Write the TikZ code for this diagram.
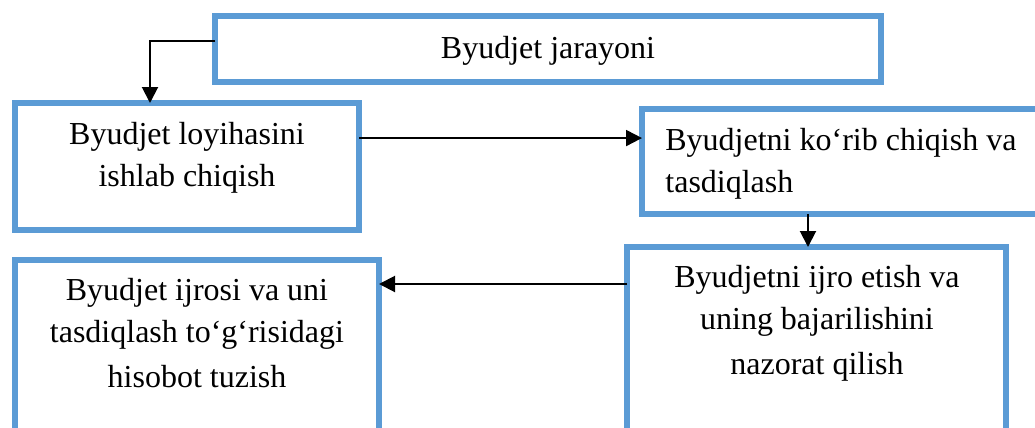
\documentclass[tikz,border=0pt]{standalone}
\usepackage{fontspec}
\setmainfont{Liberation Serif}
\usetikzlibrary{arrows.meta}
\definecolor{boxblue}{HTML}{5B9BD5}
\begin{document}
\begin{tikzpicture}[x=0.5pt,y=-0.5pt,
  stagebox/.style={draw=boxblue,line width=3pt,rectangle,outer sep=0pt,inner sep=0pt},
  stagetext/.style={font=\fontsize{16}{21}\selectfont,inner sep=0pt,anchor=base,align=center},
  flow/.style={line width=1pt,-{Triangle[length=8pt,width=8pt]}}]
\useasboundingbox (0,0) rectangle (1035,428);
\clip (0,0) rectangle (1035,428);

% stage frames
\node[stagebox,minimum width=333pt,minimum height=33pt] (b1) at (548,49) {};
\node[stagebox,minimum width=172pt,minimum height=63.25pt] (b2) at (187,166.25) {};
\node[stagebox,minimum width=204pt,minimum height=52.5pt] (b3) at (846,161.5) {};
\node[stagebox,minimum width=189.5pt,minimum height=96.5pt] (b4) at (816.5,343.5) {};
\node[stagebox,minimum width=182pt,minimum height=90.25pt] (b5) at (197,349.75) {};

% stage captions (placed by the baseline of their last line)
\node[stagetext] (t1) at (548,58) {Byudjet jarayoni};
\node[stagetext] (t2) at (187,186) {Byudjet loyihasini\\ishlab chiqish};
\node[stagetext,anchor=base west,align=left] (t3) at (665,192) {Byudjetni ko‘rib chiqish va\\tasdiqlash};
\node[stagetext] (t4) at (817,374) {Byudjetni ijro etish va\\uning bajarilishini\\[1.5pt]nazorat qilish};
\node[stagetext] (t5) at (197,387) {Byudjet ijrosi va uni\\tasdiqlash to‘g‘risidagi\\[1.5pt]hisobot tuzish};

% connectors
\draw[flow] ([yshift=4pt]b1.west) -| ([xshift=-18.5pt]b2.north);
\coordinate (c2) at ([yshift=14.1pt]b2.east);
\draw[flow] (c2) -- (c2 -| b3.west);
\coordinate (c3) at ([xshift=-4.25pt]b4.north);
\draw[flow] (c3 |- b3.south) -- (c3);
\coordinate (c4) at ([yshift=29.75pt]b4.west);
\draw[flow] (c4) -- (c4 -| b5.east);
\end{tikzpicture}
\end{document}
